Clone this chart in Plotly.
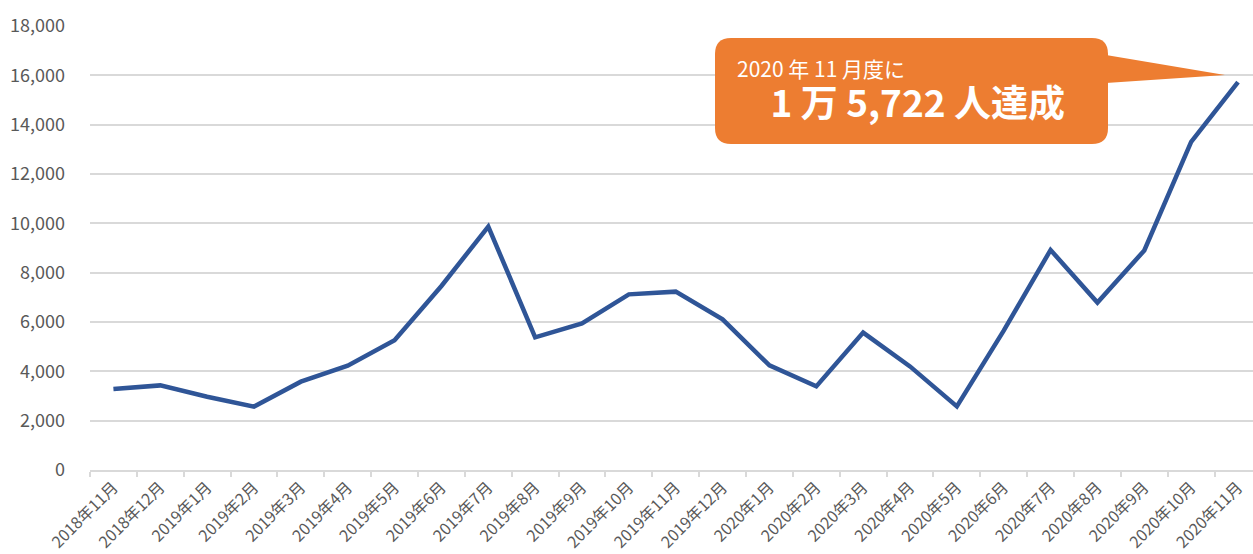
import plotly.graph_objects as go

months = ["2018年11月", "2018年12月", "2019年1月", "2019年2月", "2019年3月", "2019年4月",
          "2019年5月", "2019年6月", "2019年7月", "2019年8月", "2019年9月", "2019年10月",
          "2019年11月", "2019年12月", "2020年1月", "2020年2月", "2020年3月", "2020年4月",
          "2020年5月", "2020年6月", "2020年7月", "2020年8月", "2020年9月", "2020年10月",
          "2020年11月"]
users = [3280, 3430, 2970, 2570, 3580, 4230, 5260, 7460, 9870, 5380, 5940, 7120,
         7230, 6110, 4240, 3390, 5570, 4200, 2580, 5650, 8920, 6790, 8900, 13300,
         15722]
y_ticks = [0, 2000, 4000, 6000, 8000, 10000, 12000, 14000, 16000, 18000]
callout_small = "2020 年 11 月度に"
callout_big = "1 万 5,722 人達成"

W, H = 1253, 554
ML, MR, MT, MB = 90, 0, 26, 84
PW, PH = W - ML - MR, H - MT - MB

def px(x):
    return (x - ML) / PW

def py(y):
    return (H - MB - y) / PH

ORANGE = "#ED7D31"
BLUE = "#2F5597"
GRID = "#D9D9D9"
FONT = "Noto Sans CJK JP"

fig = go.Figure()
fig.add_trace(go.Scatter(
    x=months, y=users, mode="lines",
    line=dict(color=BLUE, width=4.5),
    hoverinfo="x+y", showlegend=False,
))

# callout: rounded rectangle + pointer
x0, x1, y0, y1, r = 715, 1108, 38, 144, 16
rect = (f"M {px(x0 + r)},{py(y0)} L {px(x1 - r)},{py(y0)} "
        f"Q {px(x1)},{py(y0)} {px(x1)},{py(y0 + r)} "
        f"L {px(x1)},{py(y1 - r)} Q {px(x1)},{py(y1)} {px(x1 - r)},{py(y1)} "
        f"L {px(x0 + r)},{py(y1)} Q {px(x0)},{py(y1)} {px(x0)},{py(y1 - r)} "
        f"L {px(x0)},{py(y0 + r)} Q {px(x0)},{py(y0)} {px(x0 + r)},{py(y0)} Z")
tail = (f"M {px(x1 - 2)},{py(55)} L {px(1225)},{py(75)} L {px(x1 - 2)},{py(83)} Z")
fig.add_shape(type="path", path=rect, xref="paper", yref="paper",
              fillcolor=ORANGE, line=dict(width=0), layer="above")
fig.add_shape(type="path", path=tail, xref="paper", yref="paper",
              fillcolor=ORANGE, line=dict(width=0), layer="above")

pad = "\u00a0" * 4
callout_text = (f"<span style='font-size:21px'>{callout_small}</span><br>"
                f"<span style='font-size:37px'><b>{pad}{callout_big}</b></span>")
fig.add_annotation(text=callout_text, xref="paper", yref="paper",
                   x=px(735), y=py(91), xanchor="left", yanchor="middle",
                   align="left", showarrow=False,
                   font=dict(family=FONT, size=31, color="white"))

fig.update_layout(
    width=W, height=H,
    margin=dict(l=ML, r=MR, t=MT, b=MB, pad=0),
    plot_bgcolor="white", paper_bgcolor="white",
    font=dict(family=FONT, color="#595959"),
    xaxis=dict(
        type="category", range=[-0.5, 24.32], automargin=False,
        tickangle=-45, tickfont=dict(size=16, color="#595959"),
        showgrid=False, showline=True, linecolor=GRID, linewidth=1.5,
        ticks="outside", tickson="boundaries", ticklen=5, tickcolor=GRID, tickwidth=1.5,
    ),
    yaxis=dict(
        range=[0, 18000], tickvals=y_ticks, tickformat=",d", automargin=False,
        tickfont=dict(size=18, color="#595959"),
        showgrid=True, gridcolor=GRID, gridwidth=1.5,
        zeroline=False, showline=False, ticks="", ticklabelstandoff=24,
    ),
)

fig.write_html("out.html", config={"displayModeBar": False},
               post_script="document.body.style.margin='0';document.body.style.overflow='hidden';")
